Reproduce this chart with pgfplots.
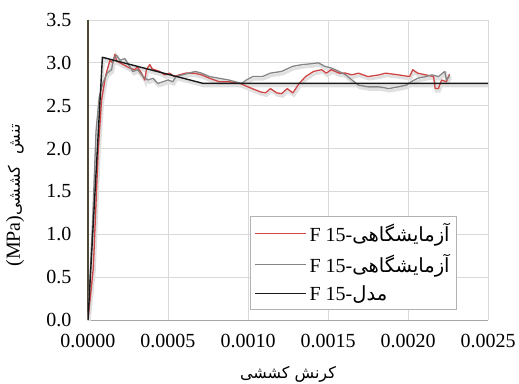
\documentclass[border=0pt]{standalone}
\usepackage{fontspec}
\setmainfont{Liberation Serif}
\newfontfamily\persian[Script=Arabic]{DejaVu Sans}
\TeXXeTstate=1
\usepackage{pgfplots}
\usepackage{pgfplotstable}
\pgfplotsset{compat=1.18}
\definecolor{redc}{HTML}{D04545}
\definecolor{grayc}{HTML}{858585}
\definecolor{gridc}{HTML}{D9D9D9}
\definecolor{yaxc}{HTML}{4F4838}
\newcommand{\bigf}{\fontsize{20}{24}\selectfont}
\newcommand{\perf}{\persian\fontsize{16}{19}\selectfont}
\newcommand{\perl}{\persian\fontsize{19.5}{23}\selectfont}

\pgfplotstableread{
x y
0 0
0.000033 0.60
0.000064 1.98
0.000085 2.57
0.00011 2.85
0.000137 3.03
0.000155 3.00
0.000168 3.10
0.00018 3.02
0.0002 3.00
0.00023 2.97
0.00026 2.94
0.00029 2.92
0.00031 2.95
0.000334 2.88
0.000355 2.80
0.000365 2.92
0.000386 2.98
0.0004 2.93
0.000417 2.92
0.000448 2.90
0.00048 2.86
0.00051 2.88
0.00054 2.84
0.00057 2.86
0.00061 2.88
0.000665 2.88
0.00071 2.86
0.00076 2.82
0.00082 2.78
0.00088 2.78
0.00095 2.76
0.001 2.72
0.00108 2.66
0.00111 2.65
0.00114 2.70
0.00118 2.65
0.00121 2.64
0.001245 2.70
0.00128 2.65
0.00132 2.76
0.00136 2.84
0.00141 2.90
0.00146 2.92
0.00149 2.88
0.00152 2.92
0.00157 2.88
0.00161 2.88
0.00165 2.86
0.00169 2.88
0.00175 2.84
0.00182 2.86
0.00186 2.88
0.00194 2.86
0.00201 2.84
0.00203 2.92
0.00206 2.88
0.00211 2.86
0.00216 2.84
0.00217 2.70
0.00219 2.70
0.00221 2.80
0.00224 2.78
0.00226 2.87
}\redtab

\pgfplotstableread{
x y
0 0
0.00003 1.20
0.00005 2.20
0.00006 2.40
0.00007 2.60
0.00009 2.75
0.00012 2.88
0.000147 2.92
0.00016 3.05
0.000178 3.09
0.0002 3.03
0.00023 3.05
0.00026 2.96
0.00028 2.90
0.00031 2.92
0.000344 2.84
0.000375 2.80
0.000406 2.82
0.000437 2.76
0.00047 2.78
0.0005 2.80
0.00053 2.78
0.00055 2.84
0.00059 2.86
0.00063 2.88
0.00067 2.90
0.00071 2.88
0.00076 2.84
0.00082 2.82
0.00088 2.80
0.00092 2.78
0.00096 2.76
0.00099 2.80
0.00103 2.84
0.00109 2.84
0.00114 2.88
0.00121 2.90
0.00128 2.96
0.00134 2.98
0.0014 2.99
0.00144 3.00
0.00148 2.96
0.00152 2.94
0.00157 2.90
0.00161 2.86
0.00165 2.80
0.00169 2.74
0.00175 2.72
0.00182 2.72
0.00188 2.70
0.00194 2.72
0.00199 2.74
0.00202 2.78
0.00206 2.82
0.00211 2.84
0.00215 2.86
0.00219 2.84
0.00223 2.90
0.00224 2.80
0.00226 2.85
}\graytab

\pgfplotstableread{
x y
0 0
0.00009 3.065
0.00072 2.76
0.0025 2.76
}\modeltab

\begin{document}
\begin{tikzpicture}
\begin{axis}[
  name=ax,
  scale only axis,
  width=400pt, height=300pt,
  xmin=0, xmax=0.0025, ymin=0, ymax=3.5,
  xtick={0,0.0005,0.001,0.0015,0.002,0.0025},
  ytick={0,0.5,1,1.5,2,2.5,3,3.5},
  scaled x ticks=false,
  /pgf/number format/assume math mode=true,
  tick label style={font=\bigf},
  xticklabel style={/pgf/number format/fixed, /pgf/number format/fixed zerofill, /pgf/number format/precision=4, yshift=-11pt},
  yticklabel style={/pgf/number format/fixed, /pgf/number format/fixed zerofill, /pgf/number format/precision=1, xshift=-13pt},
  tick style={draw=none},
  grid=major,
  major grid style={draw=gridc, line width=0.9pt},
  axis lines*=left,
  axis line style={-},
  x axis line style={draw=black!35, line width=0.9pt},
  y axis line style={draw=yaxc, line width=1.1pt},
  xlabel={\perf\beginR کرنش کششی\endR},
  xlabel style={at={(rel axis cs:0.5,0)}, anchor=center, yshift=-54pt},
  ylabel={{\bigf(MPa)}{\perf\beginR تنش\hspace{12pt}کششی\endR}},
  ylabel style={at={(rel axis cs:-0.1825,0.415)}, anchor=center},
  legend style={at={(rel axis cs:0.405,0.347)}, anchor=north west, draw=black!30, fill=white, inner xsep=4pt, inner ysep=4.5pt, row sep=5pt, font=\bigf, nodes={inner ysep=3pt, inner xsep=3pt}},
  legend cell align=left,
]
\addplot[color=black!12, line width=3pt, yshift=-2.5pt, xshift=1pt, forget plot] table {\redtab};
\addplot[color=black!12, line width=3pt, yshift=-2.5pt, xshift=1pt, forget plot] table {\graytab};
\addplot[color=black!12, line width=3pt, yshift=-2.5pt, xshift=1pt, forget plot] table {\modeltab};
\addplot[draw=redc, line width=1.3pt, line join=round,
  legend image code/.code={\draw[draw=redc, line width=1.3pt] (0pt,0pt) -- (51pt,0pt);}] table {\redtab};
\addlegendentry{F 15-{\perl\beginR آزمایشگاهی\endR}}
\addplot[draw=grayc, line width=1.3pt, line join=round,
  legend image code/.code={\draw[draw=grayc, line width=1.3pt] (0pt,0pt) -- (51pt,0pt);}] table {\graytab};
\addlegendentry{F 15-{\perl\beginR آزمایشگاهی\endR}}
\addplot[draw=black!90, line width=1.4pt, line join=round,
  legend image code/.code={\draw[draw=black!90, line width=1.4pt] (0pt,0pt) -- (51pt,0pt);}] table {\modeltab};
\addlegendentry{F 15-{\perl\beginR مدل\endR}}
\end{axis}
\pgfresetboundingbox
\path ([shift={(-88pt,-63pt)}]ax.south west) rectangle ([shift={(31pt,20pt)}]ax.north east);
\end{tikzpicture}
\end{document}
